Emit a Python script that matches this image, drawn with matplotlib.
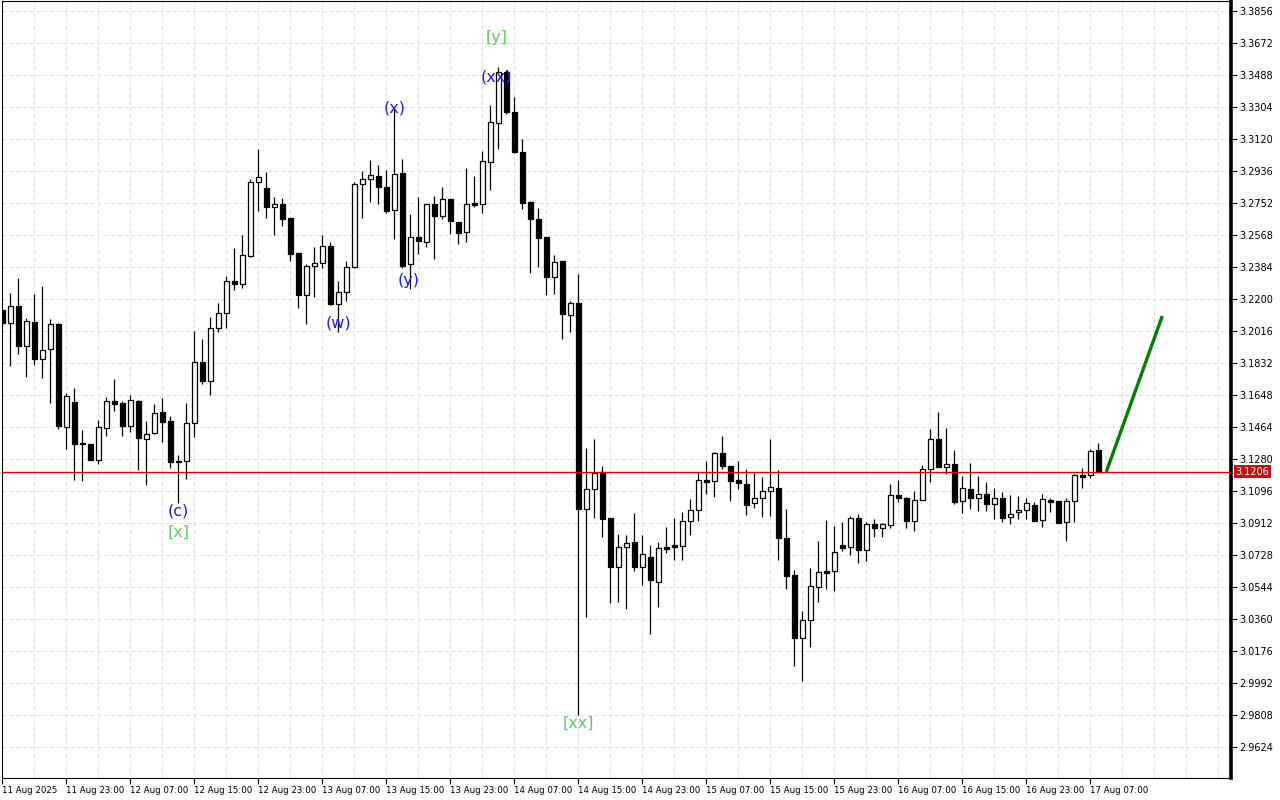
import matplotlib

matplotlib.use("Agg")
import matplotlib.pyplot as plt
from matplotlib.transforms import blended_transform_factory

# hourly candles, 11 Aug 2025 15:00 .. 17 Aug 08:00
OPEN = [
    3.2137, 3.2060, 3.2160, 3.1931, 3.2068, 3.1857, 3.1914, 3.2056, 3.1466, 3.1608,
    3.1374, 3.1366, 3.1276, 3.1460, 3.1614, 3.1602, 3.1471, 3.1614, 3.1397, 3.1428,
    3.1550, 3.1499, 3.1269, 3.1270, 3.1485, 3.1838, 3.1729, 3.2032, 3.2118, 3.2302,
    3.2288, 3.2449, 3.2871, 3.2837, 3.2731, 3.2745, 3.2664, 3.2463, 3.2221, 3.2388,
    3.2405, 3.2503, 3.2173, 3.2242, 3.2382, 3.2860, 3.2890, 3.2907, 3.2844, 3.2710,
    3.2923, 3.2400, 3.2555, 3.2529, 3.2745, 3.2679, 3.2773, 3.2641, 3.2587, 3.2752,
    3.2748, 3.2986, 3.3210, 3.3507, 3.3274, 3.3044, 3.2756, 3.2658, 3.2556, 3.2328,
    3.2419, 3.2110, 3.2175, 3.0994, 3.1106, 3.1204, 3.0941, 3.0657, 3.0772, 3.0801,
    3.0661, 3.0716, 3.0574, 3.0774, 3.0786, 3.0782, 3.0922, 3.0985, 3.1158, 3.1152,
    3.1313, 3.1238, 3.1158, 3.1134, 3.1025, 3.1054, 3.1096, 3.1111, 3.0826, 3.0611,
    3.0249, 3.0356, 3.0545, 3.0634, 3.0638, 3.0786, 3.0772, 3.0941, 3.0758, 3.0906,
    3.0885, 3.0901, 3.1071, 3.1058, 3.0925, 3.1043, 3.1221, 3.1393, 3.1232, 3.1251,
    3.1038, 3.1106, 3.1056, 3.1077, 3.1019, 3.1056, 3.0944, 3.0974, 3.0985, 3.1014,
    3.0927, 3.1044, 3.1036, 3.0916, 3.1036, 3.1188, 3.1186, 3.1330,
]
HIGH = [
    3.2148, 3.2233, 3.2321, 3.2089, 3.2229, 3.2275, 3.2085, 3.2060, 3.1661, 3.1688,
    3.1447, 3.1368, 3.1504, 3.1638, 3.1742, 3.1615, 3.1648, 3.1619, 3.1499, 3.1594,
    3.1632, 3.1529, 3.1303, 3.1600, 3.2016, 3.1970, 3.2096, 3.2177, 3.2332, 3.2495,
    3.2568, 3.2888, 3.3063, 3.2930, 3.2785, 3.2779, 3.2666, 3.2465, 3.2401, 3.2499,
    3.2566, 3.2526, 3.2302, 3.2417, 3.2874, 3.2936, 3.3001, 3.2971, 3.2942, 3.3302,
    3.3003, 3.2689, 3.2786, 3.2747, 3.2791, 3.2844, 3.2775, 3.2643, 3.2952, 3.2907,
    3.3051, 3.3314, 3.3532, 3.3517, 3.3360, 3.3118, 3.2762, 3.2722, 3.2558, 3.2453,
    3.2421, 3.2189, 3.2345, 3.1343, 3.1395, 3.1240, 3.0943, 3.0849, 3.0843, 3.0970,
    3.0843, 3.0786, 3.0803, 3.0889, 3.0941, 3.0975, 3.1050, 3.1207, 3.1270, 3.1318,
    3.1412, 3.1240, 3.1266, 3.1221, 3.1203, 3.1177, 3.1395, 3.1215, 3.0992, 3.0640,
    3.0406, 3.0652, 3.0809, 3.0929, 3.0895, 3.0918, 3.0952, 3.0964, 3.0919, 3.0935,
    3.0910, 3.1136, 3.1159, 3.1060, 3.1096, 3.1244, 3.1453, 3.1550, 3.1458, 3.1332,
    3.1182, 3.1257, 3.1182, 3.1148, 3.1113, 3.1090, 3.1073, 3.1067, 3.1057, 3.1031,
    3.1077, 3.1057, 3.1038, 3.1056, 3.1194, 3.1228, 3.1338, 3.1370,
]
LOW = [
    3.2045, 3.1816, 3.1884, 3.1753, 3.1822, 3.1747, 3.1604, 3.1451, 3.1338, 3.1159,
    3.1153, 3.1272, 3.1251, 3.1412, 3.1556, 3.1412, 3.1435, 3.1217, 3.1130, 3.1424,
    3.1378, 3.1230, 3.1029, 3.1165, 3.1408, 3.1711, 3.1648, 3.2012, 3.2035, 3.2253,
    3.2262, 3.2443, 3.2708, 3.2667, 3.2568, 3.2621, 3.2420, 3.2150, 3.2058, 3.2213,
    3.2380, 3.2166, 3.2012, 3.2190, 3.2380, 3.2667, 3.2759, 3.2748, 3.2695, 3.2547,
    3.2378, 3.2256, 3.2460, 3.2497, 3.2432, 3.2662, 3.2575, 3.2518, 3.2528, 3.2731,
    3.2696, 3.2825, 3.3061, 3.3262, 3.3042, 3.2716, 3.2348, 3.2386, 3.2225, 3.2230,
    3.1972, 3.2012, 2.9808, 3.0373, 3.0942, 3.0833, 3.0454, 3.0459, 3.0416, 3.0638,
    3.0557, 3.0276, 3.0431, 3.0741, 3.0701, 3.0698, 3.0843, 3.0925, 3.1080, 3.1063,
    3.1224, 3.1040, 3.1109, 3.0960, 3.0997, 3.0948, 3.0954, 3.0702, 3.0534, 3.0091,
    3.0005, 3.0197, 3.0459, 3.0534, 3.0523, 3.0751, 3.0730, 3.0684, 3.0695, 3.0833,
    3.0833, 3.0885, 3.1033, 3.0885, 3.0868, 3.1042, 3.1146, 3.1234, 3.1192, 3.1020,
    3.0968, 3.0991, 3.0983, 3.0979, 3.0937, 3.0919, 3.0905, 3.0937, 3.0937, 3.0922,
    3.0891, 3.0974, 3.0912, 3.0810, 3.0919, 3.1115, 3.1172, 3.1204,
]
CLOSE = [
    3.2060, 3.2160, 3.1931, 3.2072, 3.1857, 3.1907, 3.2055, 3.1471, 3.1642, 3.1368,
    3.1365, 3.1274, 3.1464, 3.1614, 3.1598, 3.1470, 3.1619, 3.1402, 3.1422, 3.1543,
    3.1494, 3.1264, 3.1263, 3.1485, 3.1836, 3.1729, 3.2032, 3.2118, 3.2302, 3.2288,
    3.2451, 3.2871, 3.2900, 3.2731, 3.2745, 3.2660, 3.2460, 3.2225, 3.2390, 3.2405,
    3.2503, 3.2173, 3.2242, 3.2382, 3.2863, 3.2890, 3.2911, 3.2846, 3.2706, 3.2917,
    3.2391, 3.2555, 3.2535, 3.2745, 3.2679, 3.2773, 3.2650, 3.2581, 3.2745, 3.2742,
    3.2992, 3.3218, 3.3507, 3.3277, 3.3044, 3.2754, 3.2658, 3.2552, 3.2328, 3.2414,
    3.2116, 3.2175, 3.0994, 3.1106, 3.1200, 3.0937, 3.0661, 3.0772, 3.0795, 3.0661,
    3.0732, 3.0586, 3.0767, 3.0764, 3.0776, 3.0924, 3.0987, 3.1158, 3.1150, 3.1313,
    3.1241, 3.1155, 3.1140, 3.1017, 3.1054, 3.1096, 3.1117, 3.0824, 3.0610, 3.0252,
    3.0353, 3.0548, 3.0629, 3.0626, 3.0744, 3.0770, 3.0941, 3.0758, 3.0906, 3.0885,
    3.0904, 3.1071, 3.1057, 3.0925, 3.1044, 3.1221, 3.1393, 3.1236, 3.1251, 3.1031,
    3.1111, 3.1054, 3.1077, 3.1019, 3.1056, 3.0942, 3.0965, 3.0985, 3.1025, 3.0925,
    3.1048, 3.1034, 3.0914, 3.1036, 3.1186, 3.1179, 3.1324, 3.1206,
]

TIME_LABELS = [
    "11 Aug 2025", "11 Aug 23:00", "12 Aug 07:00", "12 Aug 15:00", "12 Aug 23:00",
    "13 Aug 07:00", "13 Aug 15:00", "13 Aug 23:00", "14 Aug 07:00", "14 Aug 15:00",
    "14 Aug 23:00", "15 Aug 07:00", "15 Aug 15:00", "15 Aug 23:00", "16 Aug 07:00",
    "16 Aug 15:00", "16 Aug 23:00", "17 Aug 07:00",
]
PRICE_TICKS = [
    3.3856, 3.3672, 3.3488, 3.3304, 3.3120, 3.2936, 3.2752, 3.2568, 3.2384, 3.2200,
    3.2016, 3.1832, 3.1648, 3.1464, 3.1280, 3.1096, 3.0912, 3.0728, 3.0544, 3.0360,
    3.0176, 2.9992, 2.9808, 2.9624,
]
BID = 3.1206

# forecast arrow (bar index, price)
FORECAST_X = [138, 145]
FORECAST_Y = [3.1206, 3.2102]

# wave labels
WAVE_TEXT = ["[y]", "(xx)", "(x)", "(y)", "(w)", "(c)", "[x]", "[xx]"]
WAVE_X = [61.8, 61.8, 49.0, 50.8, 42.0, 22.0, 22.0, 72.0]
WAVE_Y = [3.3701, 3.3477, 3.3298, 3.2304, 3.2062, 3.0981, 3.0860, 2.9762]
WAVE_COLOR = ["#5ccc5c", "#1a1aff", "#1a1aff", "#1a1aff", "#1a1aff", "#1a1aff", "#5ccc5c", "#5ccc5c"]

fig = plt.figure(figsize=(12.8, 8), dpi=100)
ax = fig.add_axes([2 / 1280, 22 / 800, 1229 / 1280, 777 / 800])

n = len(OPEN)
idx = list(range(n))

# grid
for p in PRICE_TICKS:
    ax.axhline(p, color="#dedede", lw=0.7, ls=(0, (4, 3)), zorder=0)
for k in range(0, 156, 4):
    ax.axvline(k, color="#dedede", lw=0.7, ls=(0, (4, 3)), zorder=0)

# candles
ax.vlines(idx, LOW, HIGH, color="black", lw=0.9, zorder=2)
bull = [c >= o for o, c in zip(OPEN, CLOSE)]
bottoms = [min(o, c) for o, c in zip(OPEN, CLOSE)]
heights = [max(abs(c - o), 0.0002) for o, c in zip(OPEN, CLOSE)]
ax.bar(idx, heights, bottom=bottoms, width=0.6,
       color=["white" if b else "black" for b in bull],
       edgecolor="black", linewidth=0.9, zorder=3)

ax.axhline(BID, color="#e00000", lw=1.0, zorder=4)
ax.plot(FORECAST_X, FORECAST_Y, color="#008000", lw=2.4, zorder=5, solid_capstyle="butt")

for t, x, y, c in zip(WAVE_TEXT, WAVE_X, WAVE_Y, WAVE_COLOR):
    ax.text(x, y, t, color=c, fontsize=11.5, ha="center", va="center", zorder=6)

ax.set_xlim(-0.0375, 153.59)
ax.set_ylim(2.94458, 3.39135)

# axes styling
ax.yaxis.tick_right()
ax.set_yticks(PRICE_TICKS)
ax.set_yticklabels([f"{p:.4f}" for p in PRICE_TICKS], fontsize=7)
ax.tick_params(axis="y", length=4, width=0.8, pad=2)
ax.set_xticks(list(range(0, n, 8)))
ax.set_xticklabels(TIME_LABELS, fontsize=6.2, ha="left")
ax.tick_params(axis="x", length=4, width=0.8, pad=2)
for side in ["left", "top", "bottom"]:
    ax.spines[side].set_linewidth(0.8)
ax.spines["right"].set_linewidth(2.6)

trans = blended_transform_factory(ax.transAxes, ax.transData)
ax.text(1.0035, BID, f"{BID:.4f}", transform=trans, fontsize=7, color="white",
        ha="left", va="center", zorder=10,
        bbox=dict(boxstyle="square,pad=0.15", fc="#c81010", ec="none"))

fig.savefig("out.png", dpi=100)
